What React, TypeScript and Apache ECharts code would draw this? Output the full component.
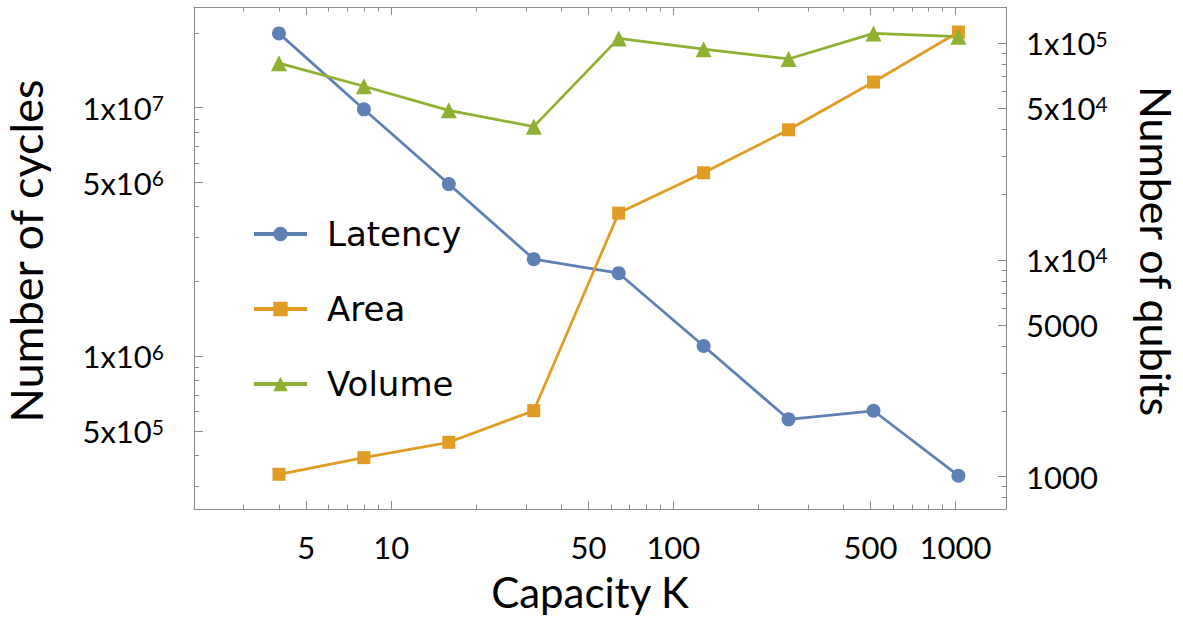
import React, { useEffect, useRef } from "react";
import * as echarts from "echarts";

// ---- data ----
const capacity = [4, 8, 16, 32, 64, 128, 256, 512, 1024];
const latency = [1.99e7, 9.85e6, 4.93e6, 2.46e6, 2.16e6, 1.1e6, 5.58e5, 6.04e5, 3.31e5];
const area = [1026, 1224, 1441, 2016, 16430, 25200, 39800, 66070, 112400];
const volume = [1.51e7, 1.22e7, 9.76e6, 8.39e6, 1.9e7, 1.72e7, 1.57e7, 1.99e7, 1.93e7];

const seriesNames = ["Latency", "Area", "Volume"];

// ---- ticks ----
const xMajorTicks = [5, 10, 50, 100, 500, 1000];
const xMinorTicks = [3, 4, 6, 7, 8, 9, 20, 30, 40, 60, 70, 80, 90, 200, 300, 400, 600, 700, 800, 900];
const leftMajorTicks = [5e5, 1e6, 5e6, 1e7];
const leftMinorTicks = [3e5, 4e5, 6e5, 7e5, 8e5, 9e5, 2e6, 3e6, 4e6, 6e6, 7e6, 8e6, 9e6, 2e7];
const rightMajorTicks = [1000, 5000, 1e4, 5e4, 1e5];
const rightMinorTicks = [800, 900, 2000, 3000, 4000, 6000, 7000, 8000, 9000, 2e4, 3e4, 4e4, 6e4, 7e4, 8e4, 9e4];

const xRange = [2, 1510];
const leftRange = [2.432e5, 2.541e7];
const rightRange = [709.6, 1.466e5];

const COLORS = ["#5E81B5", "#E19C24", "#8FB032"];
const FRAME = "#8a8a8a";
const AXIS_FONT = "Lato";

const lg = (v: number) => Math.log10(v);

function findTick(ticks: number[], v: number) {
  let best = ticks[0];
  for (const t of ticks) if (Math.abs(lg(t) - v) < Math.abs(lg(best) - v)) best = t;
  return best;
}

function sciFormatter(ticks: number[]) {
  return (v: number) => {
    const t = findTick(ticks, v);
    if (t < 1e4) return `{m|${t}}`;
    const e = Math.floor(Math.log10(t) + 1e-9);
    const m = Math.round(t / Math.pow(10, e));
    return `{m|${m}x10}{e|${e}}`;
  };
}

const richLabel = {
  m: { fontFamily: AXIS_FONT, fontSize: 31, color: "#000" },
  e: { fontFamily: AXIS_FONT, fontSize: 21, color: "#000", verticalAlign: "top" },
};

function hiddenAxis(min: number, max: number) {
  return {
    type: "value",
    min,
    max,
    splitLine: { show: false },
    axisLabel: { show: false },
    axisLine: { show: false, onZero: false },
    axisTick: { show: false },
  };
}

function tickAxis(min: number, max: number, pos: string, ticks: number[], len: number, withLine: boolean) {
  const a: any = hiddenAxis(min, max);
  a.position = pos;
  a.axisLine = { show: withLine, onZero: false, lineStyle: { color: FRAME, width: 1 } };
  a.axisTick = {
    show: true,
    inside: true,
    length: len,
    customValues: ticks.map(lg),
    lineStyle: { color: FRAME, width: 1 },
  };
  return a;
}

export default function App() {
  const ref = useRef<HTMLDivElement>(null);

  useEffect(() => {
    if (!ref.current) return;
    const chart = echarts.init(ref.current, null, { renderer: "svg" });

    const xMin = lg(xRange[0]);
    const xMax = lg(xRange[1]);
    const lMin = lg(leftRange[0]);
    const lMax = lg(leftRange[1]);
    const rMin = lg(rightRange[0]);
    const rMax = lg(rightRange[1]);

    const xBottom: any = tickAxis(xMin, xMax, "bottom", xMajorTicks, 8, true);
    xBottom.axisLabel = {
      show: true,
      customValues: xMajorTicks.map(lg),
      margin: 22,
      fontFamily: AXIS_FONT,
      fontSize: 31,
      color: "#000",
      formatter: (v: number) => String(findTick(xMajorTicks, v)),
    };
    xBottom.name = "Capacity K";
    xBottom.nameLocation = "middle";
    xBottom.nameGap = 62;
    xBottom.nameTextStyle = {
      fontFamily: AXIS_FONT,
      fontSize: 42,
      color: "#000",
      padding: [0, 20, 0, 0],
    };

    const yLeft: any = tickAxis(lMin, lMax, "left", leftMajorTicks, 9, true);
    yLeft.axisLabel = {
      show: true,
      customValues: leftMajorTicks.map(lg),
      margin: 30,
      formatter: sciFormatter(leftMajorTicks),
      rich: richLabel,
    };
    yLeft.name = "Number of cycles";
    yLeft.nameLocation = "middle";
    yLeft.nameRotate = 90;
    yLeft.nameGap = 146;
    yLeft.nameTextStyle = {
      fontFamily: AXIS_FONT,
      fontSize: 45,
      color: "#000",
      padding: [0, 0, 0, 14],
    };

    const yRight: any = tickAxis(rMin, rMax, "right", rightMajorTicks, 8, true);
    yRight.axisLabel = {
      show: true,
      customValues: rightMajorTicks.map(lg),
      margin: 20,
      formatter: sciFormatter(rightMajorTicks),
      rich: richLabel,
    };
    yRight.name = "Number of qubits";
    yRight.nameLocation = "middle";
    yRight.nameRotate = -90;
    yRight.nameGap = 129;
    yRight.nameTextStyle = {
      fontFamily: AXIS_FONT,
      fontSize: 43,
      color: "#000",
      padding: [0, 14, 0, 0],
    };

    const mk = (vals: number[]) => capacity.map((k, i) => [lg(k), lg(vals[i])]);

    const option: any = {
      animation: false,
      backgroundColor: "#fff",
      grid: {
        left: 194,
        right: 177,
        top: 7,
        bottom: 116,
        containLabel: false,
        outerBoundsMode: "none",
      },
      xAxis: [
        xBottom,
        tickAxis(xMin, xMax, "bottom", xMinorTicks, 4.5, false),
        tickAxis(xMin, xMax, "top", xMajorTicks, 8, true),
        tickAxis(xMin, xMax, "top", xMinorTicks, 4.5, false),
      ],
      yAxis: [
        yLeft,
        tickAxis(lMin, lMax, "left", leftMinorTicks, 5, false),
        yRight,
        tickAxis(rMin, rMax, "right", rightMinorTicks, 4.5, false),
      ],
      legend: {
        orient: "vertical",
        left: 252,
        top: 214,
        padding: 0,
        itemWidth: 53,
        itemHeight: 18,
        itemGap: 35,
        data: seriesNames,
        lineStyle: { width: 4 },
        textStyle: {
          fontFamily: "DejaVu Sans",
          fontSize: 34,
          color: "#000",
          lineHeight: 40,
          padding: [0, 0, 0, 15],
        },
      },
      series: [
        {
          name: seriesNames[0],
          type: "line",
          xAxisIndex: 0,
          yAxisIndex: 0,
          data: mk(latency),
          symbol: "circle",
          symbolSize: 14,
          lineStyle: { width: 2.75, color: COLORS[0] },
          itemStyle: { color: COLORS[0] },
        },
        {
          name: seriesNames[1],
          type: "line",
          xAxisIndex: 0,
          yAxisIndex: 2,
          data: mk(area),
          symbol: "rect",
          symbolSize: 13,
          lineStyle: { width: 2.75, color: COLORS[1] },
          itemStyle: { color: COLORS[1] },
        },
        {
          name: seriesNames[2],
          type: "line",
          xAxisIndex: 0,
          yAxisIndex: 0,
          data: mk(volume),
          symbol: "triangle",
          symbolSize: 16,
          lineStyle: { width: 2.75, color: COLORS[2] },
          itemStyle: { color: COLORS[2] },
        },
      ],
    };

    chart.setOption(option);
    return () => chart.dispose();
  }, []);

  return (
    <div
      ref={ref}
      style={{ position: "absolute", left: 0, top: 0, width: 1183, height: 625, background: "#fff" }}
    />
  );
}
